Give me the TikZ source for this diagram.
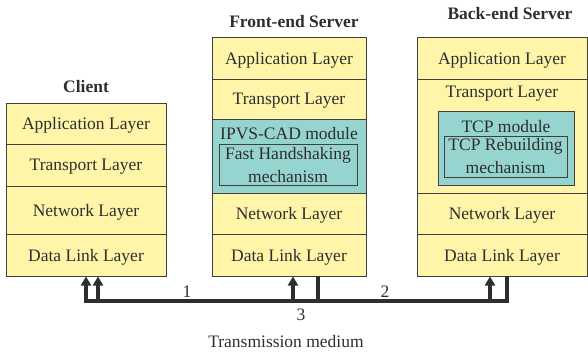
\documentclass[tikz,border=0pt]{standalone}
\usepackage{fontspec}
\setmainfont{Liberation Serif}
\usetikzlibrary{arrows.meta}
\definecolor{lyellow}{HTML}{FFF5A8}
\definecolor{lteal}{HTML}{96D4D0}
\definecolor{edge}{HTML}{404040}
\definecolor{ink}{HTML}{2E2E2E}
\tikzset{
  layer/.style={draw=edge, line width=1pt, fill=lyellow, inner sep=0pt, text=ink,
    font=\fontsize{17.5}{19}\selectfont, align=center, text depth=0pt},
  modbox/.style={draw=edge, line width=1pt, fill=lteal, inner sep=0pt},
  innerbox/.style={draw=edge, line width=0.9pt, inner sep=0pt},
  lbl/.style={text=ink, font=\fontsize{17.5}{19}\selectfont, inner sep=0pt, align=center},
  ttl/.style={text=ink, font=\fontsize{17.5}{19}\selectfont\bfseries, inner sep=0pt},
  wire/.style={draw=ink, line width=3.2pt, line join=miter},
  tip/.style={-{Triangle[length=9pt,width=10pt]}},
}
\begin{document}
\begin{tikzpicture}[x=1pt,y=-1pt]
\useasboundingbox (0,0) rectangle (588,354);
% Client
\node[ttl] (ct) at (86,87) {Client};
\node[layer, minimum width=160pt, minimum height=41pt] (cA) at (86,123.5) {Application Layer};
\node[layer, minimum width=160pt, minimum height=42pt] (cT) at (86,165) {Transport Layer};
\node[layer, minimum width=160pt, minimum height=48pt] (cN) at (86,210) {Network Layer};
\node[layer, minimum width=160pt, minimum height=42pt] (cD) at (86,255) {Data Link Layer};
% Front-end
\node[ttl] (ft) at (294,22) {Front-end Server};
\node[layer, minimum width=154pt, minimum height=42pt] (fA) at (289,58) {Application Layer};
\node[layer, minimum width=154pt, minimum height=40pt] (fT) at (289,99) {Transport Layer};
\node[layer, fill=lteal, minimum width=154pt, minimum height=74pt] (fM) at (289,156) {};
\node[lbl] (fMt) at (289,134) {IPVS-CAD module};
\node[innerbox, minimum width=138pt, minimum height=41pt] (fI) at (288,164.5) {};
\node[lbl] (fIt1) at (288,155) {Fast Handshaking};
\node[lbl] (fIt2) at (288,177) {mechanism};
\node[layer, minimum width=154pt, minimum height=41pt] (fN) at (289,213.5) {Network Layer};
\node[layer, minimum width=154pt, minimum height=42pt] (fD) at (289,255) {Data Link Layer};
% Back-end
\node[ttl] (bt) at (510,14) {Back-end Server};
\node[layer, minimum width=170pt, minimum height=42pt] (bA) at (502,58) {Application Layer};
\node[layer, minimum width=170pt, minimum height=114pt] (bT) at (502,136) {};
\node[lbl] (bTt) at (502,94) {Transport Layer};
\node[modbox, minimum width=136pt, minimum height=74pt] (bM) at (506,148) {};
\node[lbl] (bMt) at (506,127) {TCP module};
\node[innerbox, minimum width=123pt, minimum height=41pt] (bI) at (505.5,156.5) {};
\node[lbl] (bIt1) at (505.5,146) {TCP Rebuilding};
\node[lbl] (bIt2) at (505.5,168) {mechanism};
\node[layer, minimum width=170pt, minimum height=41pt] (bN) at (502,213.5) {Network Layer};
\node[layer, minimum width=170pt, minimum height=42pt] (bD) at (502,255) {Data Link Layer};
% Transmission medium
\coordinate (b3) at (507,276);
\coordinate (c3) at (86,301);
\coordinate (c1) at (98,301);
\coordinate (f1) at (293,301);
\coordinate (f2) at (318,276);
\coordinate (f2b) at (318,301);
\coordinate (b2) at (490,301);
\draw[wire, tip] (b3) |- (c3) -- (cD.south);
\draw[wire, tip] (c1) -- (c1 |- cD.south);
\draw[wire, tip] (f1) -- (f1 |- fD.south);
\draw[wire] (f2) -- (f2b);
\draw[wire, tip] (b2) -- (b2 |- bD.south);
\node[lbl] (l1) at (187,292) {1};
\node[lbl] (l2) at (385,292) {2};
\node[lbl] (l3) at (301,315) {3};
\node[lbl] (tm) at (286,342) {Transmission medium};
\end{tikzpicture}
\end{document}
